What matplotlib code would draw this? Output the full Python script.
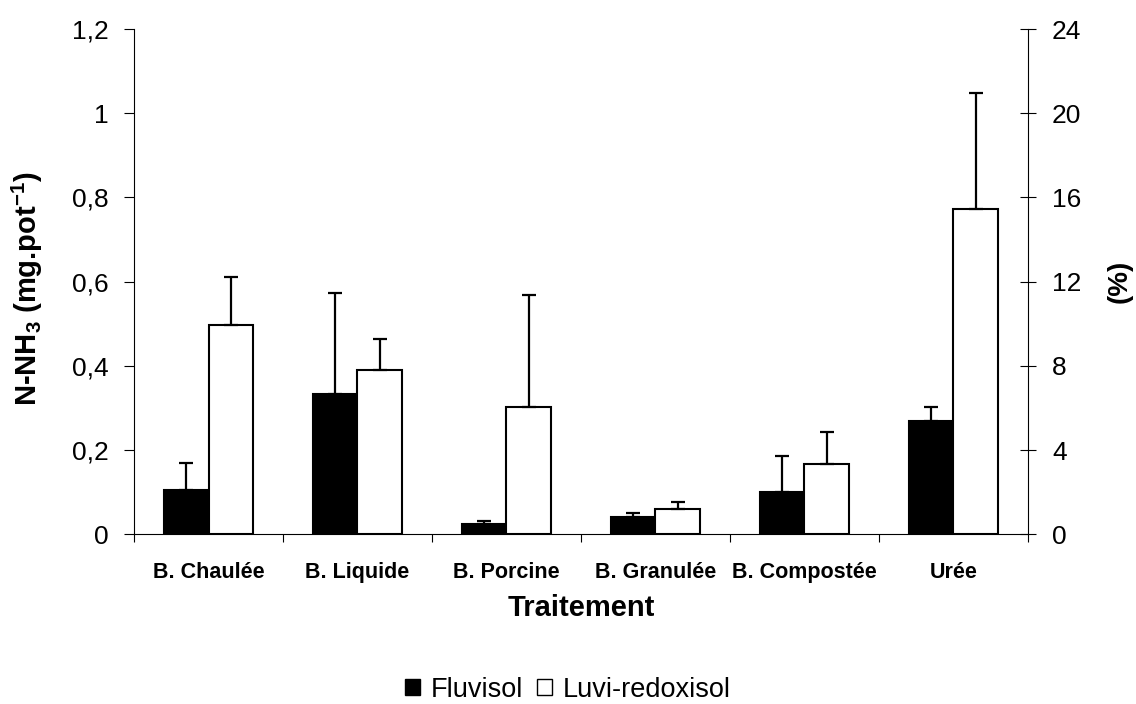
import matplotlib
matplotlib.use('Agg')
import matplotlib.pyplot as plt
import numpy as np
from matplotlib.patches import Patch

# values
categories = ['B. Chaulée', 'B. Liquide', 'B. Porcine', 'B. Granulée', 'B. Compostée', 'Urée']
fluvisol = [0.105, 0.334, 0.024, 0.042, 0.101, 0.270]
fluvisol_err = [0.065, 0.240, 0.008, 0.008, 0.086, 0.032]
luvi = [0.496, 0.390, 0.302, 0.060, 0.167, 0.772]
luvi_err = [0.114, 0.073, 0.266, 0.016, 0.076, 0.276]
left_ticks = [0, 0.2, 0.4, 0.6, 0.8, 1.0, 1.2]
left_labels = ['0', '0,2', '0,4', '0,6', '0,8', '1', '1,2']
right_ticks = [0, 4, 8, 12, 16, 20, 24]

plt.rcParams['font.family'] = 'Liberation Sans'
plt.rcParams['mathtext.fontset'] = 'custom'
plt.rcParams['mathtext.rm'] = 'Liberation Sans'
plt.rcParams['mathtext.default'] = 'regular'

fig = plt.figure(figsize=(11.36, 7.04), dpi=100)
ax = fig.add_axes([0.118, 0.241, 0.7867, 0.7178])

x = np.arange(len(categories))
w = 0.3
ax.bar(x - w / 2, fluvisol, w, color='black', edgecolor='black', linewidth=1.5, zorder=2)
ax.bar(x + w / 2, luvi, w, color='white', edgecolor='black', linewidth=1.5, zorder=2)
zeros = np.zeros(len(x))
ax.errorbar(x - w / 2, fluvisol, yerr=[zeros, fluvisol_err], fmt='none', ecolor='black',
            elinewidth=1.6, capsize=5, capthick=1.6, zorder=3)
ax.errorbar(x + w / 2, luvi, yerr=[zeros, luvi_err], fmt='none', ecolor='black',
            elinewidth=1.6, capsize=5, capthick=1.6, zorder=3)

ax.set_xlim(-0.5, len(categories) - 0.5)
ax.set_ylim(0, 1.2)
ax.set_yticks(left_ticks)
ax.set_yticklabels(left_labels, fontsize=19)
ax.tick_params(axis='y', direction='out', length=7, width=0.8, pad=11)

# group boundaries as ticks, names in between
ax.set_xticks(np.arange(len(categories) + 1) - 0.5)
ax.set_xticklabels([])
ax.set_xticks(x, minor=True)
ax.set_xticklabels(categories, minor=True, fontsize=15.5, fontweight='bold')
ax.tick_params(axis='x', which='major', direction='out', length=6, width=0.8)
ax.tick_params(axis='x', which='minor', length=0, pad=20)

ax.spines['top'].set_visible(False)
ax.spines['right'].set_visible(False)
for s in ['left', 'bottom']:
    ax.spines[s].set_linewidth(0.8)

ax.set_xlabel('Traitement', fontsize=21, fontweight='bold')
ax.xaxis.set_label_coords(0.5, -0.118)
ax.set_ylabel(r'N-NH$_3$ (mg.pot$^{-1}$)', fontsize=21, fontweight='bold')
ax.yaxis.set_label_coords(-0.1, 0.487)

ax2 = ax.twinx()
ax2.set_ylim(0, 24)
ax2.set_yticks(right_ticks)
ax2.set_yticklabels([str(t) for t in right_ticks], fontsize=19)
ax2.tick_params(axis='y', direction='inout', length=11, width=0.8, pad=12)
for s in ['top', 'left', 'bottom']:
    ax2.spines[s].set_visible(False)
ax2.spines['right'].set_linewidth(0.8)
ax2.set_ylabel('(%)', fontsize=20, fontweight='bold')
ax2.yaxis.set_label_coords(1.088, 0.5)

handles = [Patch(facecolor='black', edgecolor='black'),
           Patch(facecolor='white', edgecolor='black')]
fig.legend(handles, ['Fluvisol', 'Luvi-redoxisol'], loc='center', bbox_to_anchor=(0.5, 0.02),
           ncol=2, frameon=False, fontsize=19.5, handlelength=0.55, handleheight=0.55,
           handletextpad=0.4, columnspacing=0.5)

fig.savefig('out.png', dpi=100)
